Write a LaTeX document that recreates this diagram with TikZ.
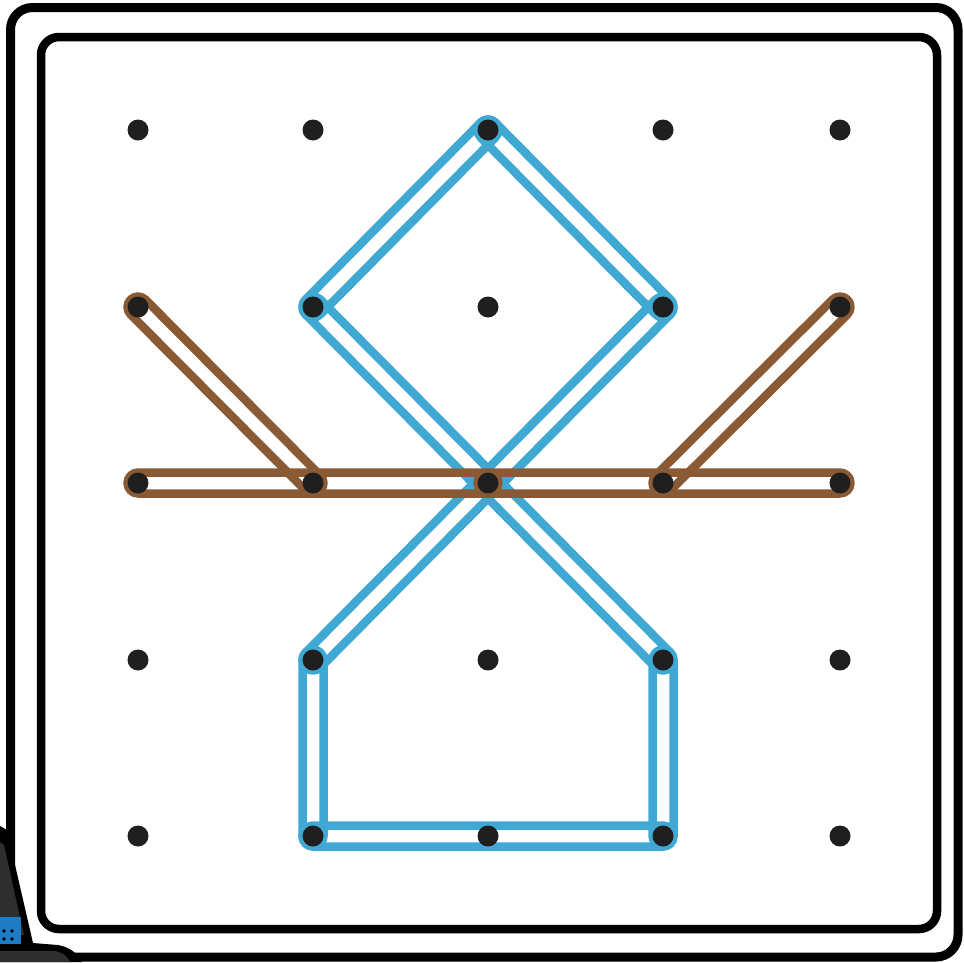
\documentclass[tikz,border=0pt]{standalone}
\usetikzlibrary{calc}
\definecolor{bandblue}{HTML}{3FA9D4}
\definecolor{bandbrown}{HTML}{8A5A35}
\definecolor{objgray}{HTML}{2E2E2E}
\definecolor{objblue}{HTML}{1F7BC4}
\tikzset{
  bandline/.style={line width=8.5pt, line join=round},
  peg/.style={circle, fill=black!88, inner sep=0pt, minimum size=21pt},
  frameline/.style={line width=9pt, rounded corners=22pt},
}
\newcommand\bandw{10.5pt}
\newcommand\band[3]{%
  \draw[bandline,#1] let \p1=($(#3)-(#2)$), \n1={atan2(\y1,\x1)} in
    ($(#2)+(\n1+90:\bandw)$) -- ($(#3)+(\n1+90:\bandw)$)
    arc[start angle=\n1+90, end angle=\n1-90, radius=\bandw]
    -- ($(#2)+(\n1-90:\bandw)$)
    arc[start angle=\n1-90, end angle=\n1-270, radius=\bandw] -- cycle;}
\begin{document}
\begin{tikzpicture}[x=1pt,y=1pt]
\useasboundingbox (0,0) rectangle (964,-962);
\fill[white] (0,0) rectangle (964,-962);
% frames
\draw[frameline] (10.5,-7.5) rectangle (958,-957);
\draw[frameline, line width=8.5pt, rounded corners=18pt] (41,-37) rectangle (937,-929);
% peg coordinates
\foreach \c/\x in {1/138,2/313,3/488,4/663,5/840}{
  \foreach \r/\y in {1/130,2/307,3/483,4/660,5/836}{
    \coordinate (c\c\r) at (\x,-\y);
  }
}
% blue band
\band{bandblue}{c31}{c22}
\band{bandblue}{c31}{c42}
\band{bandblue}{c22}{c44}
\band{bandblue}{c42}{c24}
\band{bandblue}{c44}{c45}
\band{bandblue}{c45}{c25}
\band{bandblue}{c25}{c24}
% brown bands
\band{bandbrown}{c12}{c23}
\band{bandbrown}{c52}{c43}
\band{bandbrown}{c13}{c33}
\band{bandbrown}{c33}{c53}
% pegs
\foreach \c in {1,...,5}{
  \foreach \r in {1,...,5}{
    \node[peg] (p\c\r) at (c\c\r) {};
  }
}
% partial object at bottom left
\fill[black] (0,-826) -- (7,-830) -- (33,-943) -- (58,-945)
  .. controls (70,-947) and (78,-954) .. (82,-962) -- (0,-962) -- cycle;
\fill[objgray] (0,-842) -- (4,-845) -- (24,-935) -- (0,-937) -- cycle;
\fill[objgray] (0,-951) -- (55,-951) .. controls (64,-953) and (68,-957) .. (70,-962) -- (0,-962) -- cycle;
\fill[objblue] (0,-917) rectangle (21,-944);
\foreach \dx/\dy in {4/-931,12/-931,4/-939,12/-939}{
  \fill[black] (\dx,\dy) circle (1.8pt);
}
\end{tikzpicture}
\end{document}
